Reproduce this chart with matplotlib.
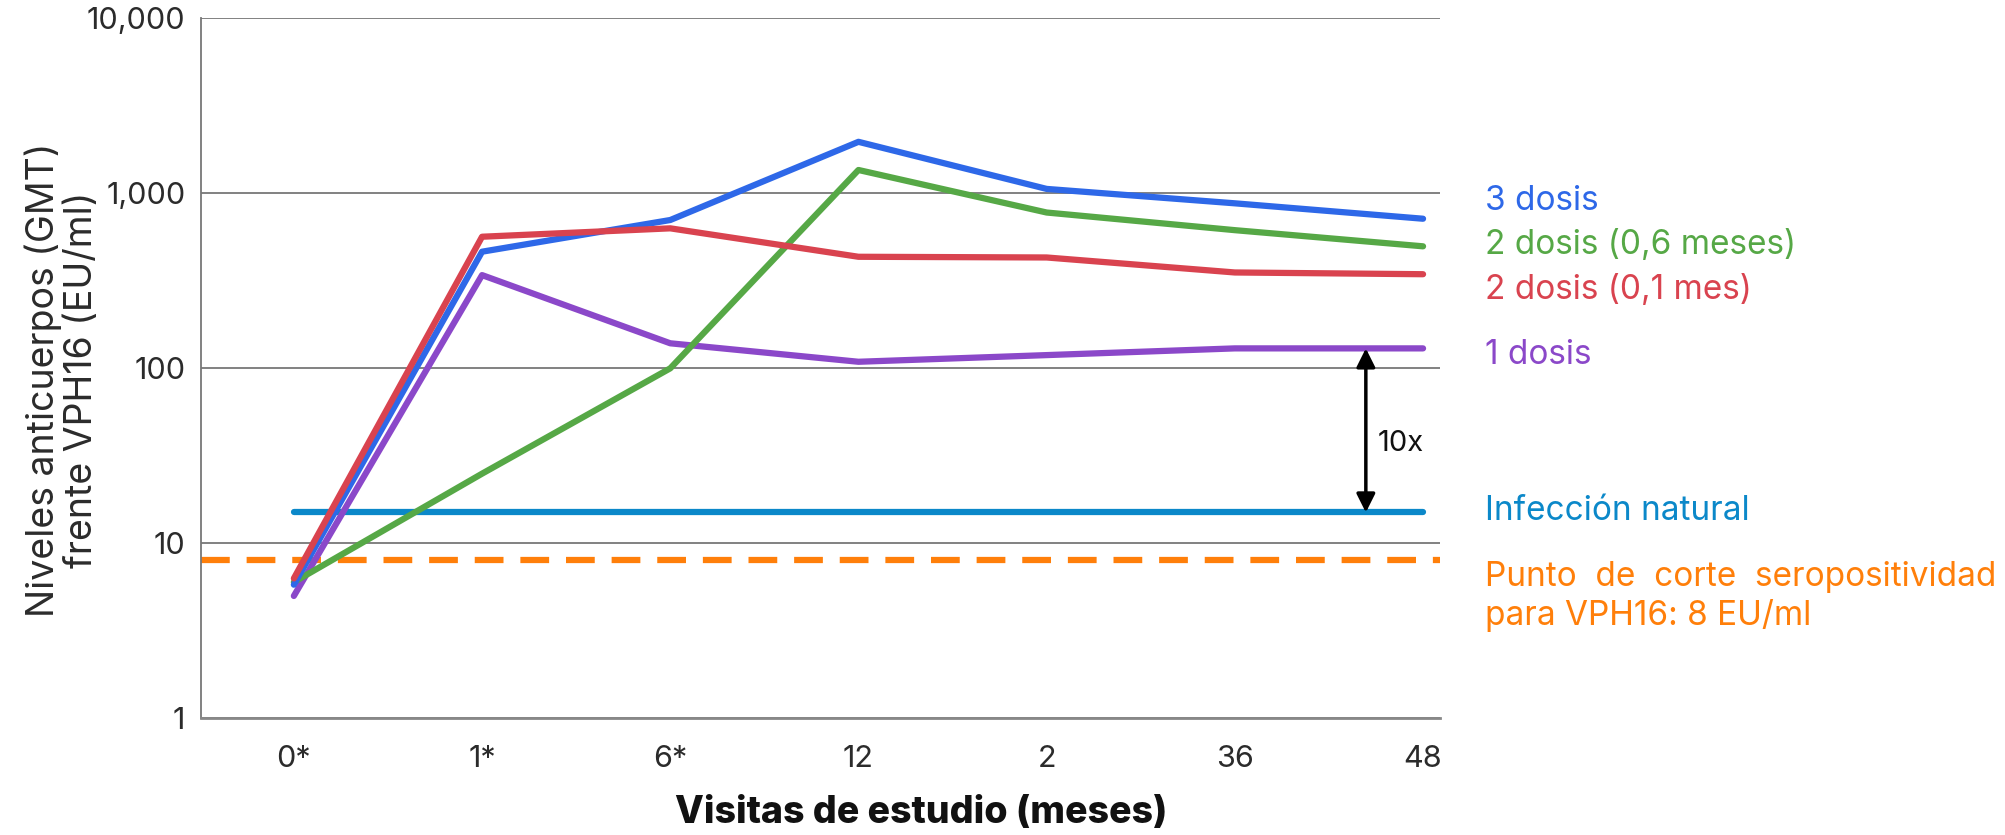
import numpy as np
import matplotlib.pyplot as plt

plt.rcParams['font.family'] = ['Inter', 'DejaVu Sans']

visitas = ['0*', '1*', '6*', '12', '2', '36', '48']

tres_dosis = [5.8, 464, 704, 1970, 1060, 877, 716]
dos_dosis_06 = [6.0, 25, 100, 1360, 777, 616, 498]
dos_dosis_01 = [6.3, 565, 631, 434, 430, 353, 345]
una_dosis = [5.0, 341, 139, 109, 119, 130, 130]
infeccion_natural = 15
punto_corte = 8

yticks = [1, 10, 100, 1000, 10000]
yticklabels = ['1', '10', '100', '1,000', '10,000']

c_azul = '#2e68e8'
c_verde = '#56a846'
c_rojo = '#d9434f'
c_morado = '#8b48c9'
c_cian = '#0b88c9'
c_naranja = '#ff7f0a'

fig = plt.figure(figsize=(20.05, 8.35), dpi=100)
ax = fig.add_axes([0.1001, 0.1398, 0.6181, 0.8382])

x = np.arange(len(visitas))
lw = 4.5

ax.axhline(punto_corte, color=c_naranja, lw=lw, dashes=(4.6, 2.7), zorder=2)
ax.plot([x[0], x[-1]], [infeccion_natural] * 2, color=c_cian, lw=lw,
        solid_capstyle='round', zorder=3)
ax.plot(x, una_dosis, color=c_morado, lw=lw, solid_capstyle='round', zorder=4)
ax.plot(x, dos_dosis_06, color=c_verde, lw=lw, solid_capstyle='round', zorder=5)
ax.plot(x, tres_dosis, color=c_azul, lw=lw, solid_capstyle='round', zorder=6)
ax.plot(x, dos_dosis_01, color=c_rojo, lw=lw, solid_capstyle='round', zorder=7)

# flecha 10x entre 1 dosis e infeccion natural
ax.annotate('', xy=(5.696, una_dosis[-1]), xytext=(5.696, infeccion_natural),
            arrowprops=dict(arrowstyle='<|-|>', color='black', lw=2.5,
                            mutation_scale=28, shrinkA=0, shrinkB=0), zorder=8)
ax.text(5.76, 37, '10x', fontsize=21, color='#111111', va='center', ha='left')

ax.set_yscale('log')
ax.set_ylim(1, 10000)
ax.set_xlim(-0.495, 6.09)
ax.set_yticks(yticks)
ax.set_yticklabels(yticklabels)
ax.minorticks_off()
ax.set_xticks(x)
ax.set_xticklabels(visitas)
ax.tick_params(axis='y', length=0, pad=11, labelsize=22, labelcolor='#2b2b2b')
ax.tick_params(axis='x', length=0, pad=19, labelsize=22, labelcolor='#2b2b2b')
ax.grid(axis='y', color='#777777', lw=1.3, zorder=0)
ax.grid(axis='x', visible=False)
for s in ['top', 'right']:
    ax.spines[s].set_visible(False)
ax.spines['left'].set_color('#777777')
ax.spines['left'].set_linewidth(1.3)
ax.spines['bottom'].set_color('#888888')
ax.spines['bottom'].set_linewidth(2)

ax.set_xlabel('Visitas de estudio (meses)', fontsize=27, fontweight='heavy',
              color='#111111', va='center')
ax.xaxis.set_label_coords(0.581, -0.136)
fig.text(0.031, 0.545, 'Niveles anticuerpos (GMT)\nfrente VPH16 (EU/ml)',
         rotation=90, ha='center', va='center', fontsize=27,
         color='#2b2b2b', linespacing=1.1)

# etiquetas de las series a la derecha
xl = 1485 / 2005
etiquetas = [
    ('3 dosis', c_azul, 201),
    ('2 dosis (0,6 meses)', c_verde, 245),
    ('2 dosis (0,1 mes)', c_rojo, 290),
    ('1 dosis', c_morado, 355),
    ('Infección natural', c_cian, 511),
    ('Punto  de  corte  seropositividad', c_naranja, 577),
    ('para VPH16: 8 EU/ml', c_naranja, 616),
]
for txt, col, ypix in etiquetas:
    fig.text(xl, 1 - ypix / 835, txt, color=col, fontsize=24,
             ha='left', va='center')

fig.savefig('out.png', dpi=100)
